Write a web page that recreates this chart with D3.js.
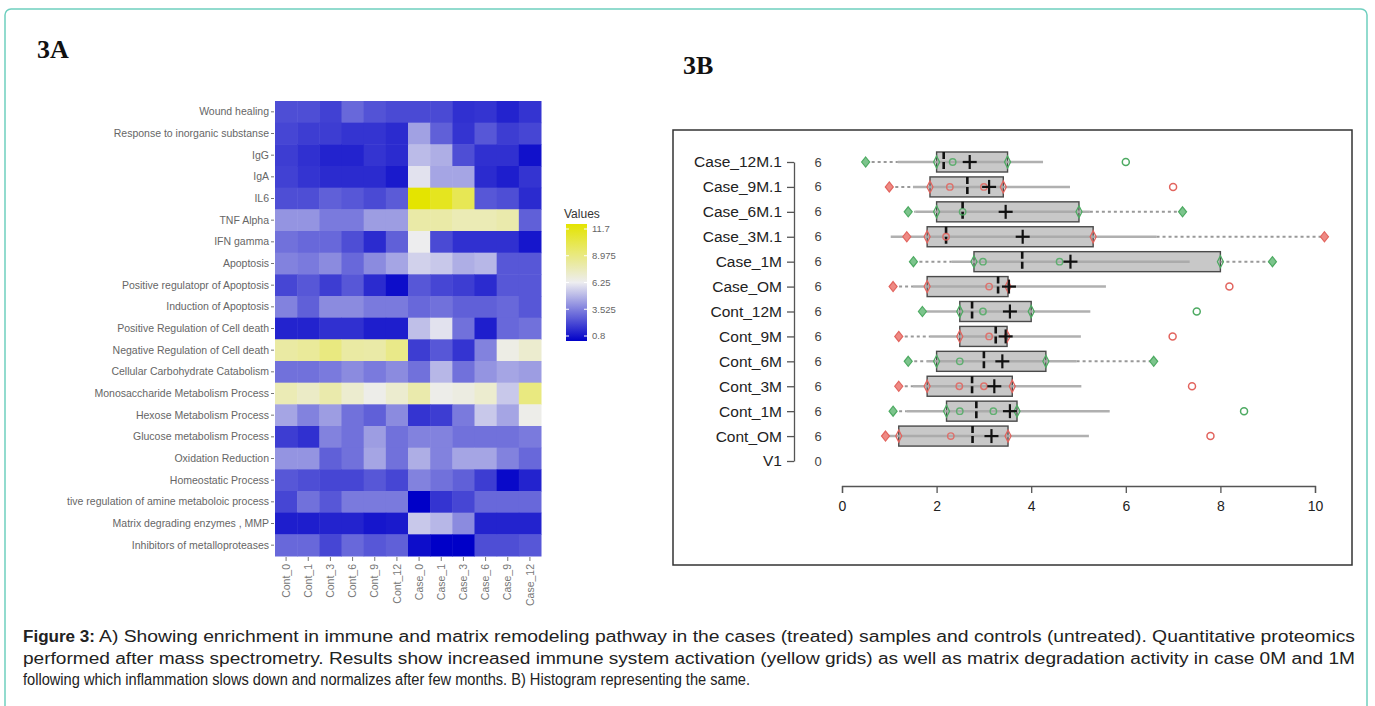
<!DOCTYPE html>
<html><head><meta charset="utf-8">
<script src="https://cdnjs.cloudflare.com/ajax/libs/d3/7.8.5/d3.min.js"></script>
<style>
html,body{margin:0;padding:0;background:#fff;}
svg{display:block;}
</style></head>
<body>
<svg id="c" width="1375" height="706"></svg>
<script>
// ---------- Heatmap data ----------
const hmRows = ["Wound healing","Response to inorganic substanse","IgG","IgA","IL6","TNF Alpha","IFN gamma","Apoptosis","Positive regulatopr of Apoptosis","Induction of Apoptosis","Positive Regulation of Cell death","Negative Regulation of Cell death","Cellular Carbohydrate Catabolism","Monosaccharide Metabolism Process","Hexose Metabolism Process","Glucose metabolism Process","Oxidation Reduction","Homeostatic Process","tive regulation of amine metaboloic process","Matrix degrading enzymes , MMP","Inhibitors of metalloproteases"];
const hmCols = ["Cont_0","Cont_1","Cont_3","Cont_6","Cont_9","Cont_12","Case_0","Case_1","Case_3","Case_6","Case_9","Case_12"];
const hmValues = [
 [2.6,2.6,2.3,3.2,2.7,2.5,2.5,2.5,1.9,2.0,1.6,2.0],
 [2.4,2.2,2.2,2.0,2.0,1.8,4.5,3.0,2.0,2.8,2.2,2.4],
 [2.2,1.9,1.6,1.6,2.0,1.8,5.1,4.8,2.6,1.9,1.9,1.2],
 [2.3,2.0,1.8,1.8,1.8,1.4,6.0,4.6,4.6,1.8,1.5,2.0],
 [2.6,2.6,3.0,2.8,2.5,2.9,11.7,11.0,9.8,2.8,2.6,1.8],
 [4.2,4.2,3.6,3.6,4.4,4.4,7.9,7.9,7.6,7.6,7.8,3.0],
 [3.4,3.2,3.2,2.6,1.8,3.0,6.3,2.5,1.9,1.9,1.9,1.3],
 [3.8,3.6,4.0,3.2,4.0,4.6,5.6,5.4,4.8,5.0,2.8,2.8],
 [2.4,2.8,2.2,2.8,1.8,1.1,2.8,2.4,2.2,1.8,2.8,2.8],
 [3.8,3.0,4.0,4.0,3.6,3.6,3.2,3.4,3.0,3.0,3.2,2.8],
 [1.6,1.6,1.9,1.9,1.5,1.5,5.2,6.0,3.4,1.5,3.2,3.4],
 [8.0,8.2,8.8,8.0,7.9,8.6,2.2,2.8,2.0,3.8,6.5,7.0],
 [3.4,3.4,3.6,4.0,3.6,4.0,3.4,5.0,3.4,4.2,4.6,4.4],
 [7.6,7.2,7.8,7.0,6.4,7.0,7.8,6.4,6.6,7.0,5.4,8.8],
 [4.6,3.8,4.4,3.4,3.0,4.0,2.0,2.2,3.6,5.4,4.6,6.4],
 [2.2,1.9,3.8,3.4,4.4,3.4,3.8,3.8,3.4,3.4,3.4,3.6],
 [4.2,4.2,3.0,3.4,4.6,3.4,4.8,3.8,4.6,4.6,3.8,3.2],
 [2.8,2.6,2.4,2.4,2.8,2.4,3.8,3.4,3.0,2.2,1.0,1.6],
 [2.4,3.4,2.8,3.6,3.6,3.6,0.8,2.0,2.4,3.2,3.2,3.2],
 [1.5,1.5,1.6,1.6,1.3,1.4,5.4,5.0,4.0,1.6,1.6,1.6],
 [3.2,3.2,2.4,3.2,2.8,3.0,1.1,0.8,0.8,2.6,2.6,2.8]
];
const legendTicks = [11.7, 8.975, 6.25, 3.525, 0.8];

// ---------- Box plot data ----------
const bpNames = ["Case_12M.1","Case_9M.1","Case_6M.1","Case_3M.1","Case_1M","Case_OM","Cont_12M","Cont_9M","Cont_6M","Cont_3M","Cont_1M","Cont_OM","V1"];
const bpCounts = [6,6,6,6,6,6,6,6,6,6,6,6,0];
const bpLowDiamond = [0.5,1.0,1.40,1.37,1.51,1.08,1.70,1.20,1.40,1.20,1.08,0.92];
const bpLineLo = [1.18,1.5,1.55,1.03,2.32,1.5,1.70,1.86,1.79,1.5,1.37,0.92];
const bpLineHi = [4.25,4.82,5.24,6.65,7.35,5.58,5.25,5.05,4.96,5.06,5.66,5.22];
const bpHighDiamond = [null,null,7.2,10.2,9.1,null,null,null,6.59,null,null,null];
const bpQ1 = [2.0,1.86,2.0,1.80,2.79,1.80,2.49,2.49,2.0,1.8,2.21,1.20];
const bpMedian = [2.15,2.65,2.55,2.20,3.81,3.30,2.75,3.25,3.0,2.75,2.84,2.76];
const bpQ3 = [3.5,3.41,5.01,5.31,8.0,3.51,4.0,3.49,4.31,3.6,3.70,3.51];
const bpMean = [2.70,3.11,3.46,3.82,4.83,3.53,3.55,3.46,3.39,3.22,3.55,3.16];
const bpPoints = [[2.34],[2.28,3.0],[2.55],[2.2],[2.98,4.6],[3.11],[2.98],[3.11],[2.49],[2.48,3.0],[2.49,3.2],[2.30]];
const bpOutliers = [6.0,7.0,null,null,null,8.19,7.5,6.99,null,7.4,8.5,7.79];
const bpTicks = [0,2,4,6,8,10];

const captionLines = [
 "A) Showing enrichment in immune and matrix remodeling pathway in the cases (treated) samples and controls (untreated). Quantitative proteomics",
 "performed after mass spectrometry. Results show increased immune system activation (yellow grids) as well as matrix degradation activity in case 0M and 1M",
 "following which inflammation slows down and normalizes after few months. B) Histogram representing the same."
];

const svg = d3.select("#c");
const SANS = "'Liberation Sans', Arial, Helvetica, sans-serif";

// outer frame
svg.append("rect").attr("x",5).attr("y",9).attr("width",1362).attr("height",740)
  .attr("rx",6).attr("fill","#fff").attr("stroke","#6FCFBF").attr("stroke-width",1.5);

// panel titles
svg.append("text").attr("x",37).attr("y",58).text("3A")
  .attr("font-family","'Liberation Serif','Times New Roman',serif").attr("font-weight","bold").attr("font-size",26).attr("fill","#111");
svg.append("text").attr("x",683).attr("y",74).text("3B")
  .attr("font-family","'Liberation Serif','Times New Roman',serif").attr("font-weight","bold").attr("font-size",26).attr("fill","#111");

// ---------- Heatmap ----------
const hx = d3.scaleBand().domain(hmCols).range([275,541]);
const hy = d3.scaleBand().domain(hmRows).range([101,556]);
const color = d3.scaleLinear().domain([0.8,6.25,11.7]).range(["#0000C8","#EDEDF0","#E4E400"]).interpolate(d3.interpolateRgb);

const cells = [];
hmValues.forEach((row,i)=>row.forEach((v,j)=>cells.push({r:hmRows[i],c:hmCols[j],v})));
const gH = svg.append("g");
gH.selectAll("rect").data(cells).join("rect")
  .attr("x",d=>hx(d.c)).attr("y",d=>hy(d.r))
  .attr("width",hx.bandwidth()+0.5).attr("height",hy.bandwidth()+0.5)
  .attr("fill",d=>color(d.v));

const axL = d3.axisLeft(hy).tickSize(3).tickPadding(2).tickSizeOuter(0);
const gL = svg.append("g").attr("transform","translate(274,0)").call(axL);
gL.select(".domain").remove();
gL.selectAll("line").attr("stroke","#777");
gL.selectAll("text").attr("font-family",SANS).attr("font-size",10.5).attr("fill","#666");

const axB = d3.axisBottom(hx).tickSize(4).tickPadding(3).tickSizeOuter(0);
const gB = svg.append("g").attr("transform","translate(0,557)").call(axB);
gB.select(".domain").remove();
gB.selectAll("line").attr("stroke","#777");
gB.selectAll("text").attr("font-family",SANS).attr("font-size",10.5).attr("fill","#777")
  .attr("text-anchor","end").attr("dy","0.35em")
  .attr("transform","translate(0,7) rotate(-90)").attr("x",0).attr("y",0);

// legend
const defs = svg.append("defs");
const grad = defs.append("linearGradient").attr("id","lg").attr("x1",0).attr("y1",1).attr("x2",0).attr("y2",0);
d3.range(0,1.0001,0.05).forEach(t=>{
  grad.append("stop").attr("offset",t).attr("stop-color",color(0.8+t*(11.7-0.8)));
});
const ly = d3.scaleLinear().domain([0.8,11.7]).range([336,229]);
svg.append("text").attr("x",564).attr("y",218).text("Values")
  .attr("font-family",SANS).attr("font-size",12).attr("fill","#333");
svg.append("rect").attr("x",566).attr("y",ly(11.7)-5).attr("width",21).attr("height",ly(0.8)-ly(11.7)+10).attr("fill","url(#lg)");
legendTicks.forEach(v=>{
  svg.append("line").attr("x1",566).attr("x2",569).attr("y1",ly(v)).attr("y2",ly(v)).attr("stroke","#fff").attr("stroke-width",1);
  svg.append("line").attr("x1",584).attr("x2",587).attr("y1",ly(v)).attr("y2",ly(v)).attr("stroke","#fff").attr("stroke-width",1);
  svg.append("text").attr("x",592).attr("y",ly(v)).attr("dy","0.35em").text(v)
    .attr("font-family",SANS).attr("font-size",9.5).attr("fill","#666");
});

// ---------- Box plot ----------
svg.append("rect").attr("x",673).attr("y",130).attr("width",679).attr("height",435)
  .attr("fill","none").attr("stroke","#333").attr("stroke-width",1.5);

const bx = d3.scaleLinear().domain([0,10]).range([842,1315]);
const by = d3.scalePoint().domain(bpNames).range([162,461]);

const axX = d3.axisBottom(bx).tickValues(bpTicks).tickSize(7).tickSizeOuter(7).tickPadding(8);
const gX = svg.append("g").attr("transform","translate(0,486)").call(axX);
gX.select(".domain").attr("stroke","#555").attr("stroke-width",1.3);
gX.selectAll(".tick line").attr("stroke","#555").attr("stroke-width",1.3);
gX.selectAll("text").attr("font-family",SANS).attr("font-size",14).attr("fill","#222");

const axY = d3.axisLeft(by).tickSize(7).tickSizeOuter(0).tickPadding(5);
const gY = svg.append("g").attr("transform","translate(794,0)").call(axY);
gY.select(".domain").attr("stroke","#555").attr("stroke-width",1.3);
gY.selectAll(".tick line").attr("stroke","#555").attr("stroke-width",1.3);
gY.selectAll("text").attr("font-family",SANS).attr("font-size",15.5).attr("fill","#222");

bpNames.forEach((n,i)=>{
  svg.append("text").attr("x",818).attr("y",by(n)).attr("dy","0.35em").attr("text-anchor","middle")
    .text(bpCounts[i]).attr("font-family",SANS).attr("font-size",13).attr("fill","#444");
});

const gBox = svg.append("g");
const GREEN = "#4DAA62", RED = "#E2645E";
const GREENF = "#7CC48C", REDF = "#EE8A84";
bpQ1.forEach((q1,i)=>{
  const yc = by(bpNames[i]);
  const col = i%2===0?GREEN:RED, fillc = i%2===0?GREENF:REDF;
  const g = gBox.append("g");
  if (bpLineLo[i] > bpLowDiamond[i]) {
    g.append("line").attr("x1",bx(bpLowDiamond[i])).attr("x2",bx(bpLineLo[i])).attr("y1",yc).attr("y2",yc)
      .attr("stroke","#999").attr("stroke-width",2).attr("stroke-dasharray","3,3");
  }
  g.append("rect").attr("x",bx(q1)).attr("y",yc-10).attr("width",bx(bpQ3[i])-bx(q1)).attr("height",20)
    .attr("fill","#C8C8C8").attr("stroke","#4A4A4A").attr("stroke-width",1.4);
  g.append("line").attr("x1",bx(bpLineLo[i])).attr("x2",bx(bpLineHi[i])).attr("y1",yc).attr("y2",yc)
    .attr("stroke","#A8A8A8").attr("stroke-width",2.5).attr("opacity",0.9);
  if (bpHighDiamond[i]!==null) {
    g.append("line").attr("x1",bx(Math.max(bpLineHi[i],bpQ3[i]))).attr("x2",bx(bpHighDiamond[i])).attr("y1",yc).attr("y2",yc)
      .attr("stroke","#999").attr("stroke-width",2).attr("stroke-dasharray","3,3");
  }
  g.append("line").attr("x1",bx(bpMedian[i])).attr("x2",bx(bpMedian[i])).attr("y1",yc-10).attr("y2",yc+10)
    .attr("stroke","#111").attr("stroke-width",2.6).attr("stroke-dasharray","7,3");
  [q1,bpQ3[i]].forEach(v=>{
    g.append("path").attr("d",`M${bx(v)},${yc-6}L${bx(v)+3},${yc}L${bx(v)},${yc+6}L${bx(v)-3},${yc}Z`)
      .attr("fill","none").attr("stroke",col).attr("stroke-width",1.3);
  });
  bpPoints[i].forEach(v=>{
    g.append("circle").attr("cx",bx(v)).attr("cy",yc).attr("r",3.2)
      .attr("fill","none").attr("stroke",col).attr("stroke-width",1.4).attr("opacity",0.85);
  });
  [bpLowDiamond[i],bpHighDiamond[i]].forEach(v=>{
    if (v===null) return;
    g.append("path").attr("d",`M${bx(v)},${yc-5}L${bx(v)+4},${yc}L${bx(v)},${yc+5}L${bx(v)-4},${yc}Z`)
      .attr("fill",fillc).attr("stroke",col).attr("stroke-width",1.2);
  });
  if (bpOutliers[i]!==null) {
    g.append("circle").attr("cx",bx(bpOutliers[i])).attr("cy",yc).attr("r",3.5)
      .attr("fill","none").attr("stroke",col).attr("stroke-width",1.5);
  }
  const mx = bx(bpMean[i]);
  g.append("line").attr("x1",mx-7).attr("x2",mx+7).attr("y1",yc).attr("y2",yc).attr("stroke","#111").attr("stroke-width",2.2);
  g.append("line").attr("x1",mx).attr("x2",mx).attr("y1",yc-7).attr("y2",yc+7).attr("stroke","#111").attr("stroke-width",2.2);
});

// ---------- Caption ----------
const CAP = "'Liberation Sans Narrow','Arial Narrow','Liberation Sans',Arial,sans-serif";
const capY = [642,664,685];
svg.append("text").attr("x",23).attr("y",capY[0]).text("Figure 3:")
  .attr("font-family",CAP).attr("font-weight","bold").attr("font-size",16).attr("fill","#222")
  .attr("textLength",72).attr("lengthAdjust","spacingAndGlyphs");
const capX = [99,23,23], capW = [1256,1332,727];
captionLines.forEach((t,i)=>{
  svg.append("text").attr("x",capX[i]).attr("y",capY[i]).text(t)
    .attr("font-family",CAP).attr("font-size",16).attr("fill","#222")
    .attr("textLength",capW[i]).attr("lengthAdjust","spacingAndGlyphs");
});
</script>
</body></html>
